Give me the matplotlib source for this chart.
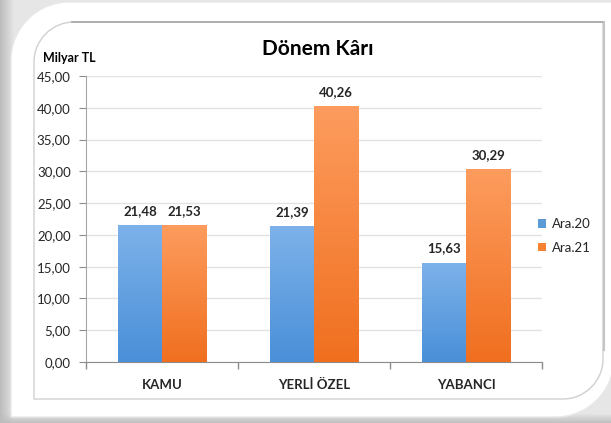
import matplotlib.pyplot as plt
import numpy as np
from matplotlib.path import Path
from matplotlib.patches import PathPatch
from matplotlib.colors import LinearSegmentedColormap
from matplotlib.ticker import FuncFormatter, FixedLocator

plt.rcParams['font.family'] = ['Lato', 'DejaVu Sans']

# data
kategoriler = ['KAMU', 'YERLİ ÖZEL', 'YABANCI']
seriler = ['Ara.20', 'Ara.21']
ara20 = [21.48, 21.39, 15.63]
ara21 = [21.53, 40.26, 30.29]

W, H = 611, 423
fig = plt.figure(figsize=(W / 100, H / 100), dpi=100)
fig.patch.set_facecolor('#d4d4d4')

# arka plan cercevesi (piksel koordinatlari)
bg = fig.add_axes([0, 0, 1, 1], zorder=-5)
bg.set_xlim(0, W)
bg.set_ylim(H, 0)
bg.axis('off')

# kenar golgesi: gradient
yy, xx = np.mgrid[0:H, 0:W]
golge = np.clip(np.minimum(xx / 14.0, 1) * np.minimum((H - yy) / 10.0, 1), 0, 1)
bg.imshow(golge, cmap=LinearSegmentedColormap.from_list('g', ['#bdbdbd', '#e6e6e6']),
          extent=(0, W, H, 0), aspect='auto', zorder=0)


def diag_round(x0, y0, x1, y1, r):
    # sol ust ve sag alt koseleri yuvarlak dikdortgen
    k = 0.55 * r
    verts = [(x0, y0 + r),
             (x0, y0 + r - k), (x0 + r - k, y0), (x0 + r, y0),
             (x1, y0),
             (x1, y1 - r),
             (x1, y1 - r + k), (x1 - r + k, y1), (x1 - r, y1),
             (x0, y1),
             (x0, y0 + r)]
    codes = [Path.MOVETO,
             Path.CURVE4, Path.CURVE4, Path.CURVE4,
             Path.LINETO,
             Path.LINETO,
             Path.CURVE4, Path.CURVE4, Path.CURVE4,
             Path.LINETO,
             Path.CLOSEPOLY]
    return Path(verts, codes)


bg.add_patch(PathPatch(diag_round(11, 2, 614, 417, 58), facecolor='white',
                       edgecolor='#e8e8e8', lw=1, zorder=1))
bg.add_patch(PathPatch(diag_round(34, 22, 603, 399, 40), facecolor='white',
                       edgecolor='#d0d0d0', lw=1, zorder=2))
bg.plot([72, 603], [22.5, 22.5], color='#a6a6a6', lw=1.2, zorder=3)
bg.plot([603.5, 603.5], [22, 350], color='#c4c4c4', lw=1.5, zorder=3)

# grafik
ax = fig.add_axes([86 / W, 1 - 362 / H, (542 - 86) / W, (362 - 76) / H])
ax.set_facecolor('none')
x = np.arange(len(kategoriler))
w = 0.29

mavi = LinearSegmentedColormap.from_list('mavi', ['#4a8fd8', '#7db2ea'])
turuncu = LinearSegmentedColormap.from_list('tur', ['#f06f1f', '#fd9c5e'])

b1 = ax.bar(x - w / 2, ara20, w, color='#5b9bd5', label=seriler[0], zorder=3)
b2 = ax.bar(x + w / 2, ara21, w, color='#f58232', label=seriler[1], zorder=3)

# cubuklarda dikey gradient
grad = np.linspace(0, 1, 256).reshape(-1, 1)
for bars, cm in [(b1, mavi), (b2, turuncu)]:
    for p in bars:
        bx, by = p.get_x(), p.get_y()
        bw, bh = p.get_width(), p.get_height()
        im = ax.imshow(grad, cmap=cm, origin='lower', aspect='auto',
                       extent=(bx, bx + bw, by, by + bh), zorder=3.5)
        im.set_clip_path(p)

for bars, vals in [(b1, ara20), (b2, ara21)]:
    for p, v in zip(bars, vals):
        ax.annotate(f'{v:.2f}'.replace('.', ','),
                    (p.get_x() + p.get_width() / 2, v),
                    xytext=(0, 6), textcoords='offset points',
                    ha='center', va='bottom', fontsize=9.5,
                    fontweight='bold', color='#262626')

ax.set_xlim(-0.5, len(kategoriler) - 0.5)
ax.set_ylim(0, 45)
ax.set_yticks(np.arange(0, 46, 5))
ax.yaxis.set_major_formatter(FuncFormatter(lambda v, _: f'{v:.2f}'.replace('.', ',')))
ax.grid(axis='y', color='#e3e3e3', lw=1, zorder=0)
ax.set_axisbelow(True)

ax.set_xticks(x)
ax.set_xticklabels(kategoriler, fontsize=9.5, fontweight='bold', color='#262626')
ax.tick_params(axis='x', length=0, pad=12)
ax.xaxis.set_minor_locator(FixedLocator(np.arange(-0.5, len(kategoriler), 1)))
ax.tick_params(axis='x', which='minor', length=5, color='#8c8c8c', width=1)
ax.tick_params(axis='y', length=5, color='#8c8c8c', labelsize=9.5,
               labelcolor='#262626', pad=6)

for s in ['top', 'right']:
    ax.spines[s].set_visible(False)
ax.spines['left'].set_color('#a6a6a6')
ax.spines['bottom'].set_color('#8c8c8c')

# baslik ve birim
fig.text(318 / W, 1 - 49 / H, 'Dönem Kârı', ha='center', va='center',
         fontsize=15, fontweight='bold', color='#000000')
fig.text(43 / W, 1 - 58 / H, 'Milyar TL', ha='left', va='center',
         fontsize=9, fontweight='bold', color='#000000')

# legend
leg = ax.legend(loc='center left', frameon=False, fontsize=9.5,
                handlelength=0.6, handleheight=0.6, handletextpad=0.4,
                labelspacing=0.9, borderaxespad=0)
leg.set_bbox_to_anchor((533 / W, 1 - 236 / H), transform=fig.transFigure)
for t in leg.get_texts():
    t.set_color('#262626')

fig.savefig('out.png', dpi=100, facecolor=fig.get_facecolor())
